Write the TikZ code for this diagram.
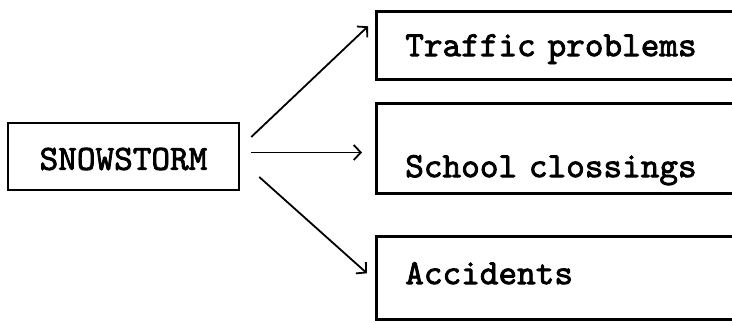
\documentclass[tikz,border=0pt]{standalone}
\usepackage{fontspec}
\newfontfamily\typewriter{lmmono10-regular.otf}[FakeBold=2.2]
\usepackage{tikz}
\usetikzlibrary{arrows.meta, positioning}
\tikzset{
  cause/.style={
      draw=black,
      line width=2.5pt,
      rectangle,
      minimum width=231pt,
      inner xsep=0pt,
      inner ysep=0pt,
      align=center,
      font=\typewriter\fontsize{35.5}{40}\selectfont
  },
  effect/.style={
      draw=black,
      line width=2.6pt,
      rectangle,
      anchor=north west,
      text width=400pt,
      inner xsep=29pt,
      inner ysep=0pt,
      align=left,
      font=\typewriter\fontsize{35.5}{40}\selectfont
  },
  arrow/.style={-{Straight Barb[length=7pt,width=15pt]}, line width=1.8pt}
}
\begin{document}
\begin{tikzpicture}[x=1pt, y=1pt]
      \useasboundingbox (0,0) rectangle (732,323);
      \clip (0,0) rectangle (732,323);
      % Basic boxes
      \node (storm) [cause, text height=46.85pt, text depth=20.15pt] at (123.5,166.5) {SNOWSTORM};
      \node (traffic) [effect, text height=44.85pt, text depth=23.15pt] at (375,313) {Traffic problems};
      \node (school) [effect, text height=73.85pt, text depth=16.15pt] at (375,221) {School clossings};
      \node (accidents) [effect, text height=47.85pt, text depth=35.15pt] at (375,88) {Accidents};
      \coordinate (mid) at ([xshift=11pt,yshift=4pt]storm.east);
      
      % Connections
      \draw[arrow] ([xshift=11pt,yshift=19.5pt]storm.east) -- ([xshift=-7pt,yshift=19pt]traffic.west);
      \draw[arrow, shorten >=13pt] (mid) -- (mid -| school.west);
      \draw[arrow] ([xshift=19pt,yshift=-20.5pt]storm.east) -- ([xshift=-8pt,yshift=4.5pt]accidents.west);
    \end{tikzpicture}
\end{document}
